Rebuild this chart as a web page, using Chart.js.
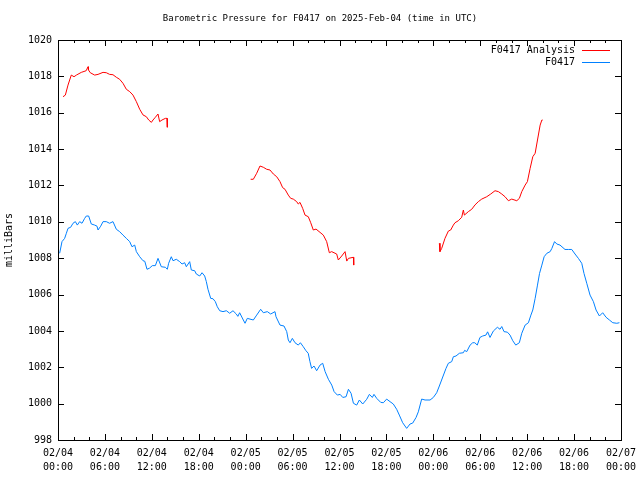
<!DOCTYPE html>
<html>
<head>
<meta charset="utf-8">
<script src="https://cdn.jsdelivr.net/npm/chart.js@4/dist/chart.umd.min.js"></script>
<style>
  html, body { margin: 0; padding: 0; background: #fff; }
  #wrap { width: 640px; height: 480px; position: relative; }
</style>
</head>
<body>
<div id="wrap"><canvas id="pressureChart"></canvas></div>
<script>
// hours since 02/04 00:00 UTC
const analysisHours = [
    0.64, 0.94, 1.28, 1.7, 2.05, 2.35, 2.98, 3.6, 3.84, 3.9, 4.13, 4.69, 5.12, 5.76, 6.18, 6.6, 7.03, 7.46, 7.88, 8.31,
    8.74, 9.17, 9.59, 10.02, 10.45, 10.87, 11.3, 11.6, 11.94, 12.15, 12.45, 12.79, 13.0, 13.3, 13.73, 13.94, 13.98,
    20,
    24.64, 24.98, 25.41, 25.83, 26.26, 26.69, 27.11, 27.54, 27.97, 28.39, 28.73, 29.03, 29.45, 29.76, 30.09, 30.52, 30.73, 30.95, 31.29, 31.59,
    32.01, 32.32, 32.65, 33.0, 33.51, 33.93, 34.36, 34.7, 35.0, 35.64, 35.85, 36.28, 36.71, 36.93, 37.14, 37.78, 37.82,
    43,
    48.77, 48.85, 49.07, 49.49, 49.92, 50.22, 50.56, 50.77, 51.2, 51.63, 51.84, 51.97, 52.48, 52.91, 53.33, 53.76, 54.19, 54.83, 55.34, 55.89,
    56.32, 56.75, 57.17, 57.6, 58.03, 58.67, 59.0, 59.31, 59.74, 60.03, 60.38, 60.72, 61.02, 61.32, 61.66, 61.88, 61.98
];
const analysisValues = [
    1016.88, 1016.97, 1017.52, 1018.07, 1017.98, 1018.07, 1018.22, 1018.31, 1018.53, 1018.35, 1018.2, 1018.07, 1018.11, 1018.22, 1018.2, 1018.11, 1018.09, 1017.95, 1017.84, 1017.62,
    1017.29, 1017.16, 1016.97, 1016.61, 1016.19, 1015.88, 1015.78, 1015.6, 1015.47, 1015.6, 1015.75, 1015.93, 1015.51, 1015.6, 1015.69, 1015.69, 1015.2,
    null,
    1012.34, 1012.34, 1012.67, 1013.07, 1013.0, 1012.89, 1012.85, 1012.63, 1012.48, 1012.21, 1011.88, 1011.79, 1011.47, 1011.29, 1011.25, 1011.11, 1010.98, 1011.07, 1010.74, 1010.37,
    1010.28, 1009.95, 1009.55, 1009.6, 1009.42, 1009.27, 1008.91, 1008.3, 1008.36, 1008.23, 1007.9, 1008.12, 1008.36, 1007.84, 1007.99, 1008.05, 1007.62,
    null,
    1008.82, 1008.36, 1008.54, 1009.09, 1009.49, 1009.55, 1009.82, 1009.95, 1010.06, 1010.25, 1010.65, 1010.37, 1010.56, 1010.69, 1010.93, 1011.11, 1011.25, 1011.38, 1011.53, 1011.71,
    1011.66, 1011.53, 1011.38, 1011.16, 1011.25, 1011.16, 1011.29, 1011.66, 1012.02, 1012.21, 1012.94, 1013.58, 1013.77, 1014.5, 1015.32, 1015.6, 1015.6
];

const stationHours = [
    0.21, 0.51, 0.85, 1.07, 1.28, 1.62, 1.92, 2.22, 2.47, 2.77, 3.07, 3.41, 3.62, 3.92, 4.26, 4.69, 4.99, 5.12, 5.46, 5.76,
    6.18, 6.6, 7.03, 7.46, 7.88, 8.31, 8.74, 9.17, 9.46, 9.81, 10.02, 10.45, 10.87, 11.1, 11.38, 11.7, 12.06, 12.45, 12.79, 13.21,
    13.73, 13.98, 14.15, 14.49, 14.71, 15.13, 15.56, 15.86, 16.2, 16.41, 16.84, 17.05, 17.48, 17.69, 18.12, 18.42, 18.76, 18.97, 19.18, 19.53,
    19.82, 20.12, 20.37, 20.68, 21.1, 21.53, 21.96, 22.38, 22.8, 23.0, 23.23,
    23.7, 23.92, 24.21, 24.98, 25.41, 25.92, 26.26, 26.77, 27.2, 27.75, 27.88, 28.39, 28.9, 29.25, 29.45, 29.67, 29.97, 30.31, 30.73, 31.0,
    31.37, 31.71, 32.0, 32.22, 32.43, 32.74, 33.08, 33.51, 33.85, 34.16, 34.58, 35.01, 35.31, 35.73, 36.08, 36.42, 36.84, 37.14, 37.48, 37.78,
    38.2, 38.54, 38.97, 39.48, 39.82, 40.2, 40.41, 40.76, 41.27, 41.61, 42.03, 42.46, 42.88, 43.31, 43.65, 44.08, 44.59, 45.02, 45.36, 45.79,
    46.08, 46.51, 46.94, 47.58, 48.0, 48.43, 48.77,
    49.62, 49.92, 50.35, 50.56, 50.9, 51.33, 51.84, 52.0, 52.27, 52.7, 53.04, 53.3, 53.62, 53.96, 54.31, 54.73, 54.94, 55.25, 55.67, 56.19,
    56.53, 56.75, 57.04, 57.47, 57.81, 58.16, 58.54, 59.0, 59.31, 59.74, 60.16, 60.48, 60.72, 61.02, 61.32, 61.58, 61.88, 62.17, 62.52, 62.94,
    63.16, 63.5, 63.79, 64.2, 64.84, 65.27, 65.7, 66.12, 66.55, 66.98, 67.27, 67.62, 68.04, 68.47, 68.81, 69.24, 69.66, 70.09, 70.52, 70.95,
    71.46, 71.8
];
const stationValues = [
    1008.27, 1008.91, 1009.09, 1009.37, 1009.64, 1009.7, 1009.92, 1010.01, 1009.82, 1010.01, 1009.92, 1010.19, 1010.32, 1010.32, 1009.88, 1009.82, 1009.76, 1009.55, 1009.76, 1010.01,
    1010.01, 1009.92, 1010.01, 1009.59, 1009.46, 1009.27, 1009.09, 1008.91, 1008.63, 1008.72, 1008.36, 1008.08, 1007.86, 1007.83, 1007.39, 1007.45, 1007.59, 1007.59, 1007.99, 1007.53,
    1007.5, 1007.39, 1007.72, 1008.08, 1007.86, 1007.94, 1007.81, 1007.68, 1007.75, 1007.53, 1007.81, 1007.35, 1007.31, 1007.13, 1007.02, 1007.2, 1007.02, 1006.71, 1006.29, 1005.79,
    1005.77, 1005.61, 1005.33, 1005.11, 1005.06, 1005.11, 1004.97, 1005.11, 1004.93, 1004.8, 1005.0,
    1004.6, 1004.42, 1004.69, 1004.6, 1004.87, 1005.19, 1005.0, 1005.06, 1004.93, 1005.06, 1004.78, 1004.32, 1004.27, 1003.96, 1003.5, 1003.35, 1003.59, 1003.35, 1003.22, 1003.35,
    1003.13, 1002.91, 1002.77, 1002.31, 1001.94, 1002.07, 1001.81, 1002.12, 1002.22, 1001.76, 1001.34, 1001.02, 1000.66, 1000.47, 1000.51, 1000.34, 1000.38, 1000.79, 1000.57, 1000.02,
    999.92, 1000.2, 999.98, 1000.24, 1000.51, 1000.34, 1000.51, 1000.29, 1000.07, 1000.05, 1000.25, 1000.11, 999.98, 999.69, 999.37, 998.95, 998.64, 998.88, 998.93, 999.24,
    999.55, 1000.25, 1000.2, 1000.2, 1000.34, 1000.6, 1000.97,
    1001.94, 1002.22, 1002.31, 1002.58, 1002.62, 1002.77, 1002.8, 1002.93, 1002.86, 1003.22, 1003.35, 1003.35, 1003.22, 1003.64, 1003.72, 1003.77, 1003.95, 1003.64, 1003.99, 1004.2,
    1004.09, 1004.24, 1003.96, 1003.93, 1003.77, 1003.46, 1003.22, 1003.35, 1003.87, 1004.32, 1004.45, 1004.87, 1005.15, 1005.79, 1006.52, 1007.16, 1007.62, 1008.08, 1008.27, 1008.36,
    1008.54, 1008.91, 1008.78, 1008.72, 1008.48, 1008.48, 1008.48, 1008.23, 1007.99, 1007.72, 1007.16, 1006.62, 1005.97, 1005.61, 1005.15, 1004.82, 1005.0, 1004.75, 1004.6, 1004.45,
    1004.42, 1004.45
];

const tickLabels = [
    ["02/04", "00:00"], ["02/04", "06:00"], ["02/04", "12:00"], ["02/04", "18:00"],
    ["02/05", "00:00"], ["02/05", "06:00"], ["02/05", "12:00"], ["02/05", "18:00"],
    ["02/06", "00:00"], ["02/06", "06:00"], ["02/06", "12:00"], ["02/06", "18:00"],
    ["02/07", "00:00"]
];

const chartTitle = "Barometric Pressure for F0417 on 2025-Feb-04 (time in UTC)";

const FONT = "'DejaVu Sans Mono', 'Liberation Mono', monospace";

function toPoints(xs, ys) {
    return xs.map((x, i) => ({ x: x, y: ys[i] }));
}

// gnuplot-like frame: box + inward ticks on all sides, title, legend inside top right
const framePlugin = {
    id: "frame",
    afterDraw(chart) {
        const ctx = chart.ctx;
        const a = chart.chartArea;
        const xs = chart.scales.x;
        const ys = chart.scales.y;
        ctx.save();
        ctx.strokeStyle = "#000";
        ctx.lineWidth = 1;
        ctx.beginPath();
        for (let h = 0; h <= 72; h += 2) {
            const px = Math.round(xs.getPixelForValue(h)) + 0.5;
            const len = h % 6 === 0 ? 6 : 3;
            ctx.moveTo(px, a.bottom);
            ctx.lineTo(px, a.bottom - len);
            ctx.moveTo(px, a.top);
            ctx.lineTo(px, a.top + len);
        }
        for (let v = 998; v <= 1020; v += 2) {
            const py = Math.round(ys.getPixelForValue(v)) + 0.5;
            ctx.moveTo(a.left, py);
            ctx.lineTo(a.left + 6, py);
            ctx.moveTo(a.right, py);
            ctx.lineTo(a.right - 6, py);
        }
        ctx.stroke();
        ctx.strokeRect(Math.round(a.left) + 0.5, Math.round(a.top) + 0.5,
            Math.round(a.right - a.left), Math.round(a.bottom - a.top));

        ctx.fillStyle = "#000";
        ctx.font = "9px " + FONT;
        ctx.textAlign = "center";
        ctx.textBaseline = "middle";
        ctx.fillText(chartTitle, chart.width / 2, 19);

        ctx.font = "10px " + FONT;
        ctx.textAlign = "right";
        chart.data.datasets.forEach((ds, i) => {
            const y = a.top + 10 + i * 12;
            ctx.fillStyle = "#000";
            ctx.fillText(ds.label, a.right - 46, y);
            ctx.strokeStyle = ds.borderColor;
            ctx.beginPath();
            ctx.moveTo(a.right - 39, Math.round(y) + 0.5);
            ctx.lineTo(a.right - 11, Math.round(y) + 0.5);
            ctx.stroke();
        });
        ctx.restore();
    }
};

const ctx = document.getElementById("pressureChart").getContext("2d");

new Chart(ctx, {
    type: "line",
    data: {
        datasets: [
            {
                label: "F0417 Analysis",
                data: toPoints(analysisHours, analysisValues),
                borderColor: "#ff0000",
                borderWidth: 1,
                pointRadius: 0,
                spanGaps: false,
                tension: 0
            },
            {
                label: "F0417",
                data: toPoints(stationHours, stationValues),
                borderColor: "#0080ff",
                borderWidth: 1,
                pointRadius: 0,
                tension: 0
            }
        ]
    },
    options: {
        responsive: true,
        maintainAspectRatio: false,
        animation: false,
        layout: { padding: { left: 0, right: 19, top: 40, bottom: 0 } },
        plugins: {
            legend: { display: false },
            tooltip: { enabled: false },
            title: { display: false }
        },
        scales: {
            x: {
                type: "linear",
                min: 0,
                max: 72,
                grid: { display: false, drawTicks: false },
                border: { display: false },
                afterFit: (scale) => {
                    scale.height = 40;
                    scale.paddingLeft = 0;
                    scale.paddingRight = 0;
                },
                ticks: {
                    stepSize: 6,
                    autoSkip: false,
                    maxRotation: 0,
                    padding: 6,
                    color: "#000",
                    font: { family: FONT, size: 10, lineHeight: 1.4 },
                    callback: (v) => tickLabels[Math.round(v / 6)]
                }
            },
            y: {
                min: 998,
                max: 1020,
                grid: { display: false, drawTicks: false },
                border: { display: false },
                afterFit: (scale) => {
                    scale.width = 58;
                    scale.paddingTop = 0;
                    scale.paddingBottom = 0;
                },
                title: {
                    display: true,
                    text: "milliBars",
                    color: "#000",
                    font: { family: FONT, size: 10 },
                    padding: { top: 3, bottom: 0 }
                },
                ticks: {
                    stepSize: 2,
                    padding: 6,
                    color: "#000",
                    font: { family: FONT, size: 10 },
                    callback: (v) => String(v)
                }
            }
        }
    },
    plugins: [framePlugin]
});
</script>
</body>
</html>
